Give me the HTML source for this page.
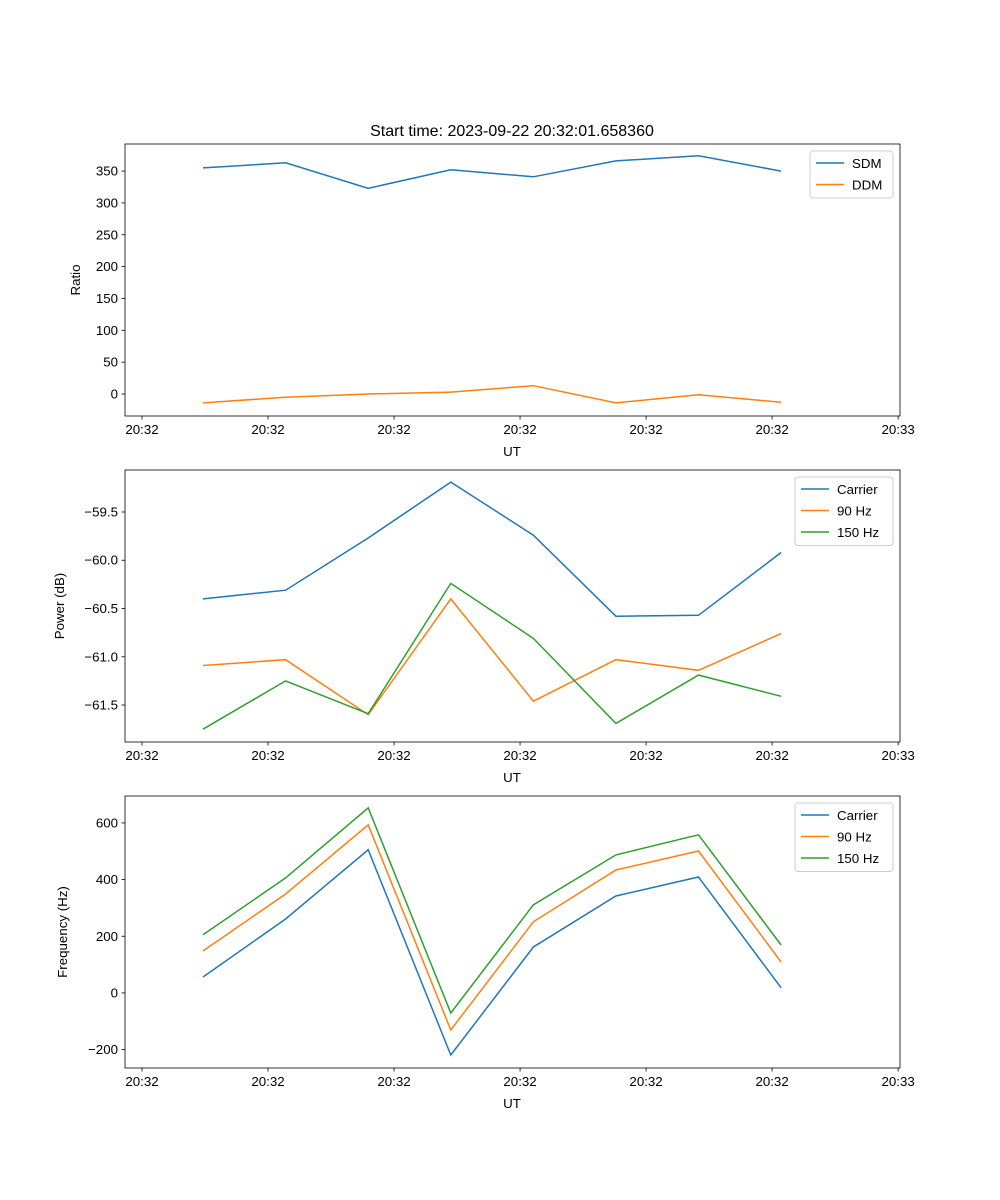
<!DOCTYPE html>
<html><head><meta charset="utf-8"><style>
body{margin:0;background:#fff}
svg{display:block;font-family:"Liberation Sans","DejaVu Sans",sans-serif}
</style></head><body>
<svg id="fig" width="1000" height="1200">
<rect width="1000" height="1200" fill="#fff"/>
<text x="512" y="136" text-anchor="middle" font-size="16">Start time: 2023-09-22 20:32:01.658360</text>
</svg>
<script>
const tickLabels=["20:32","20:32","20:32","20:32","20:32","20:32","20:33"];
const tickTimes=[-0.739,0.787,2.313,3.839,5.365,6.891,8.417];
const times=[0,1,2,3,4,5,6,7];
const sdm=[355,363,323,352,341,366,374,350];
const ddm=[-14,-5,0,3,13,-14,-1,-13];
const powCarrier=[-60.40,-60.31,-59.77,-59.19,-59.74,-60.58,-60.57,-59.92];
const pow90=[-61.09,-61.03,-61.60,-60.40,-61.46,-61.03,-61.14,-60.76];
const pow150=[-61.75,-61.25,-61.59,-60.24,-60.81,-61.69,-61.19,-61.41];
const freqCarrier=[56,261,505,-219,162,342,409,18];
const freq90=[148,349,593,-131,251,434,501,109];
const freq150=[205,406,653,-71,311,487,558,169];
const ticks1=[0,50,100,150,200,250,300,350];
const ticks2=[-61.5,-61.0,-60.5,-60.0,-59.5];
const ticks3=[-200,0,200,400,600];
const C=["#1f77b4","#ff7f0e","#2ca02c"];
const svg=document.getElementById('fig');
const NS="http://www.w3.org/2000/svg";
function el(t,a,p){const e=document.createElementNS(NS,t);for(const k in a)e.setAttribute(k,a[k]);(p||svg).appendChild(e);return e;}
const X0=125,X1=900,T0=-0.945,T1=8.44;
function sx(t){return X0+(t-T0)/(T1-T0)*(X1-X0);}
function panel(name,top,ymin,ymax,yticks,fmt,ylabel,ylabX,series,legend){
  const bot=top+272;
  const g=el('g',{});
  
  
  const sy=v=>bot-(v-ymin)/(ymax-ymin)*272;
  series.forEach((s,i)=>{
    const pts=s.vals.map((v,j)=>sx(times[j]).toFixed(1)+','+sy(v).toFixed(1)).join(' ');
    const l=el('polyline',{points:pts,fill:'none',stroke:C[i],'stroke-width':1.5},g);
    
    
  });
  const fr=el('rect',{x:X0,y:top,width:X1-X0,height:272,fill:'none',stroke:'#000','stroke-width':0.8},g);
  
  
  tickTimes.forEach((t,i)=>{
    const x=sx(t);
    el('line',{x1:x,x2:x,y1:bot,y2:bot+3.5,stroke:'#000','stroke-width':0.8},g);
    const tx=el('text',{x:x,y:bot+18,'text-anchor':'middle','font-size':13.3},g);
    tx.textContent=tickLabels[i];
    
    
  });
  yticks.forEach(v=>{
    const y=sy(v);
    el('line',{x1:X0-3.5,x2:X0,y1:y,y2:y,stroke:'#000','stroke-width':0.8},g);
    const tx=el('text',{x:X0-7,y:y+4.5,'text-anchor':'end','font-size':13.3},g);
    tx.textContent=fmt(v);
    
    
  });
  const xl=el('text',{x:512,y:bot+40,'text-anchor':'middle','font-size':13.3},g);
  xl.textContent='UT';
  
  
  const yl=el('text',{x:ylabX,y:top+136,'text-anchor':'middle','font-size':13.3,transform:`rotate(-90 ${ylabX} ${top+136})`},g);
  yl.textContent=ylabel;
  
  
  const lg=el('g',{},g);
  
  
  el('rect',{x:legend.x,y:top+7,width:893-legend.x,height:series.length*21.5+4,rx:3,fill:'#fff','fill-opacity':0.8,stroke:'#ccc'},lg);
  series.forEach((s,i)=>{
    const y=top+19+i*21.5;
    el('line',{x1:legend.x+6,x2:legend.x+34,y1:y,y2:y,stroke:C[i],'stroke-width':1.5},lg);
    const t=el('text',{x:legend.x+42,y:y+5,'font-size':13.3},lg);
    t.textContent=s.label;
    
    
  });
}
panel('ratio',144,-34.5,392.5,ticks1,v=>v<0?'−'+(-v):String(v),'Ratio',80,
 [{key:'sdm',label:'SDM',vals:sdm},{key:'ddm',label:'DDM',vals:ddm}],{x:810});
panel('power',470,-61.883,-59.065,ticks2,v=>'−'+(-v).toFixed(1),'Power (dB)',64,
 [{key:'carrier',label:'Carrier',vals:powCarrier},{key:'90hz',label:'90 Hz',vals:pow90},{key:'150hz',label:'150 Hz',vals:pow150}],{x:795});
panel('frequency',796,-265,695,ticks3,v=>v<0?'−'+(-v):String(v),'Frequency (Hz)',67,
 [{key:'carrier',label:'Carrier',vals:freqCarrier},{key:'90hz',label:'90 Hz',vals:freq90},{key:'150hz',label:'150 Hz',vals:freq150}],{x:795});
</script>
</body></html>
